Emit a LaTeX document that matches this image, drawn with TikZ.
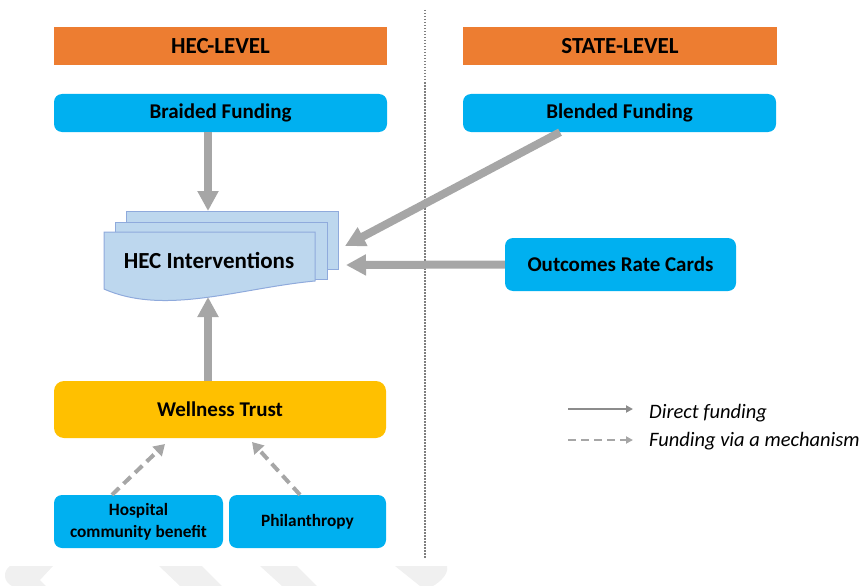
\documentclass[tikz,border=0pt]{standalone}
\usepackage{fontspec}
\setmainfont{Carlito}
\usetikzlibrary{arrows.meta,calc}
\definecolor{hdrorange}{HTML}{ED7D31}
\definecolor{boxblue}{HTML}{00B0F0}
\definecolor{trustyellow}{HTML}{FFC000}
\definecolor{docblue}{HTML}{BDD7EE}
\definecolor{docline}{HTML}{8FAADC}
\definecolor{arrowgray}{HTML}{A6A6A6}
\definecolor{legendgray}{HTML}{8C8C8C}
\definecolor{wmgray}{HTML}{F0F0F0}
\definecolor{divgray}{HTML}{7F7F7F}
\begin{document}
\begin{tikzpicture}[x=1pt,y=-1pt,
  hdr/.style={fill=hdrorange, inner sep=0pt, minimum height=38pt,
    font=\fontsize{23}{27}\selectfont\bfseries},
  fundbox/.style={fill=boxblue, rounded corners=8pt, inner sep=0pt,
    font=\fontsize{21}{25}\selectfont\bfseries},
  smallbox/.style={fill=boxblue, rounded corners=8pt, inner sep=0pt, align=center,
    minimum height=53pt, font=\fontsize{17.3}{22}\selectfont\bfseries},
  trustbox/.style={fill=trustyellow, rounded corners=10pt, inner sep=0pt,
    minimum width=332pt, minimum height=57pt, font=\fontsize{21}{25}\selectfont\bfseries},
  bigarrow/.style={draw=arrowgray, line width=8pt,
    -{Triangle[length=20pt,width=20pt]}},
  mecharrow/.style={draw=arrowgray, line width=4pt, dash pattern=on 10pt off 6pt,
    -{Triangle[length=11pt,width=13pt]}},
  docpage/.style={fill=docblue, draw=docline, line width=1pt},
  legendtext/.style={anchor=west, inner sep=0pt, font=\fontsize{20.5}{24}\selectfont\itshape},
  wmark/.style={fill=wmgray, draw=none}
]
\useasboundingbox (0,0) rectangle (868,586);

% watermark shapes at the bottom
\fill[wmark] (10,566) -- (53,566) -- (40,580) -- (46,586) -- (12,586)
  .. controls (4,582) and (2,572) .. (10,566) -- cycle;
\fill[wmark] (159,566) -- (202,566) -- (222,586) -- (180,586) -- cycle;
\fill[wmark] (260,566) -- (297,566) -- (317,586) -- (282,586) -- cycle;
\fill[wmark] (395,566) -- (447,566) .. controls (449,574) and (440,582) .. (433,586)
  -- (420,586) -- cycle;

% divider
\draw[divgray, line width=1.4pt, dash pattern=on 1.5pt off 1.5pt] (425,10) -- (425,558);

% headers
\node[hdr, minimum width=333pt] (hec) at (220.5,46) {HEC-LEVEL};
\node[hdr, minimum width=314pt] (state) at (620,46) {STATE-LEVEL};

% funding boxes
\node[fundbox, minimum width=333pt, minimum height=38pt] (braided) at (220.5,113) {Braided Funding};
\node[fundbox, minimum width=313pt, minimum height=38pt] (blended) at (619.5,113) {Blended Funding};
\node[fundbox, minimum width=231pt, minimum height=53pt] (outcomes) at (620.5,264.5) {Outcomes Rate Cards};

% HEC interventions (multi-document)
\path[docpage] (126,211) rectangle (338,269);
\path[docpage] (115,222) rectangle (327,279);
\path[docpage] (104,232) -- (315,232) -- (315,281)
  .. controls (240,288) and (165,316) .. (104,289) -- cycle;
\node[inner sep=0pt, font=\fontsize{23}{27}\selectfont\bfseries] (interv) at (209,260) {HEC Interventions};
\coordinate (intTop) at (208,211);
\coordinate (intBottom) at (208,297);
\coordinate (intRightA) at (345,246);
\coordinate (intRightB) at (346,265);

% wellness trust and sources
\node[trustbox] (trust) at (220,409.5) {Wellness Trust};
\node[smallbox, minimum width=169pt] (hosp) at (138.5,521.5) {Hospital\\community benefit};
\node[smallbox, minimum width=157pt] (phil) at (307.5,521.5) {Philanthropy};
\coordinate (trustInA) at (165,444);
\coordinate (trustInB) at (252,442);

% direct funding arrows
\draw[bigarrow] ([xshift=-12.5pt]braided.south) -- (intTop);
\draw[bigarrow] ([xshift=-59.5pt]blended.south) -- (intRightA);
\draw[bigarrow] (outcomes.west) -- (intRightB);
\draw[bigarrow] ([xshift=-12pt]trust.north) -- (intBottom);

% mechanism arrows
\draw[mecharrow] ([xshift=-26.5pt]hosp.north) -- (trustInA);
\draw[mecharrow] ([xshift=-7.5pt]phil.north) -- (trustInB);

% legend
\coordinate (legA1) at (568,409);
\coordinate (legA2) at (633,409);
\coordinate (legB1) at (568,440);
\coordinate (legB2) at (633,440);
\draw[legendgray, line width=2.5pt, -{Triangle[length=7pt,width=7pt]}] (legA1) -- (legA2);
\draw[arrowgray, line width=2.5pt, dash pattern=on 8pt off 5pt, -{Triangle[length=7pt,width=7pt]}] (legB1) -- (legB2);
\node[legendtext] (legDirect) at (649,413) {Direct funding};
\node[legendtext] (legMech) at (649,441) {Funding via a mechanism};
\end{tikzpicture}
\end{document}
